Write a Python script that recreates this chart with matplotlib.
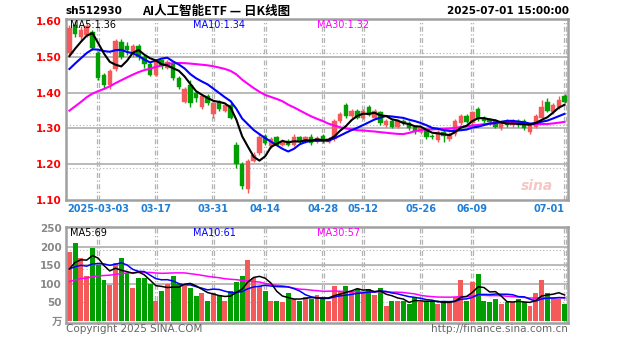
import numpy as np
import pandas as pd
import matplotlib
matplotlib.use("Agg")
import matplotlib.pyplot as plt

plt.rcParams['font.family'] = ['DejaVu Sans', 'Noto Sans CJK SC']

# ---------------- data ----------------
code = "sh512930"
title = "AI人工智能ETF — 日K线图"
stamp = "2025-07-01 15:00:00"

tick_idx = [5, 15, 25, 34, 44, 51, 61, 70, 86]
tick_labels = ['2025-03-03', '03-17', '03-31', '04-14', '04-28', '05-12', '05-26', '06-09', '07-01']

# closes before the first visible day (only used for the moving averages)
pre_close = [1.20, 1.21, 1.19, 1.22, 1.24, 1.23, 1.25, 1.27, 1.26, 1.28,
             1.30, 1.29, 1.31, 1.33, 1.34, 1.36, 1.35, 1.38, 1.40, 1.42,
             1.41, 1.43, 1.44, 1.42, 1.45, 1.46, 1.48, 1.50, 1.49]
pre_vol = [70, 65, 80, 75, 90, 85, 70, 95, 100, 80, 85, 90, 110, 95, 100, 105, 90, 100, 95, 100,
           150, 130, 145, 135, 140, 120, 135, 125, 134]

open_ = [1.51, 1.59, 1.555, 1.56, 1.57, 1.51, 1.45, 1.42, 1.465, 1.54,
         1.53, 1.51, 1.53, 1.50, 1.48, 1.45, 1.49, 1.47, 1.48, 1.44,
         1.375, 1.42, 1.40, 1.36, 1.39, 1.34, 1.375, 1.35, 1.365, 1.255,
         1.20, 1.13, 1.21, 1.23, 1.28, 1.25, 1.275, 1.255, 1.265, 1.255,
         1.275, 1.262, 1.275, 1.265, 1.28, 1.262, 1.27, 1.32, 1.365, 1.335,
         1.35, 1.33, 1.36, 1.33, 1.345, 1.31, 1.32, 1.305, 1.32, 1.315,
         1.305, 1.29, 1.295, 1.28, 1.268, 1.29, 1.27, 1.285, 1.315, 1.335,
         1.315, 1.355, 1.33, 1.325, 1.32, 1.30, 1.322, 1.31, 1.32, 1.32,
         1.29, 1.305, 1.33, 1.375, 1.345, 1.36, 1.39]
close = [1.58, 1.565, 1.575, 1.585, 1.525, 1.44, 1.42, 1.46, 1.545, 1.50,
         1.52, 1.53, 1.50, 1.48, 1.45, 1.49, 1.475, 1.485, 1.44, 1.415,
         1.41, 1.37, 1.385, 1.39, 1.37, 1.37, 1.355, 1.365, 1.33, 1.20,
         1.14, 1.21, 1.225, 1.275, 1.26, 1.27, 1.255, 1.265, 1.255, 1.275,
         1.265, 1.275, 1.26, 1.272, 1.265, 1.27, 1.32, 1.34, 1.335, 1.35,
         1.33, 1.35, 1.338, 1.35, 1.315, 1.32, 1.305, 1.32, 1.315, 1.30,
         1.29, 1.30, 1.275, 1.275, 1.29, 1.28, 1.285, 1.32, 1.335, 1.318,
         1.345, 1.325, 1.32, 1.318, 1.305, 1.315, 1.31, 1.32, 1.312, 1.30,
         1.31, 1.335, 1.36, 1.35, 1.365, 1.38, 1.375]
high = [1.59, 1.60, 1.585, 1.595, 1.575, 1.515, 1.455, 1.465, 1.55, 1.55,
        1.54, 1.535, 1.535, 1.505, 1.485, 1.495, 1.495, 1.49, 1.485, 1.445,
        1.415, 1.435, 1.405, 1.395, 1.395, 1.375, 1.38, 1.37, 1.37, 1.262,
        1.205, 1.215, 1.235, 1.285, 1.285, 1.275, 1.28, 1.27, 1.27, 1.285,
        1.28, 1.28, 1.285, 1.278, 1.285, 1.275, 1.325, 1.345, 1.37, 1.355,
        1.355, 1.355, 1.365, 1.355, 1.35, 1.325, 1.325, 1.325, 1.325, 1.32,
        1.31, 1.305, 1.30, 1.285, 1.295, 1.295, 1.29, 1.325, 1.34, 1.34,
        1.35, 1.36, 1.335, 1.33, 1.325, 1.32, 1.325, 1.325, 1.325, 1.325,
        1.315, 1.34, 1.38, 1.385, 1.37, 1.39, 1.395]
low = [1.50, 1.555, 1.545, 1.555, 1.52, 1.435, 1.41, 1.41, 1.46, 1.495,
       1.505, 1.50, 1.49, 1.47, 1.445, 1.445, 1.465, 1.465, 1.435, 1.41,
       1.37, 1.36, 1.375, 1.355, 1.365, 1.33, 1.35, 1.345, 1.325, 1.19,
       1.13, 1.12, 1.205, 1.225, 1.255, 1.245, 1.25, 1.25, 1.25, 1.25,
       1.26, 1.258, 1.255, 1.26, 1.26, 1.258, 1.265, 1.315, 1.33, 1.33,
       1.325, 1.325, 1.335, 1.325, 1.31, 1.305, 1.30, 1.30, 1.31, 1.295,
       1.285, 1.285, 1.27, 1.27, 1.262, 1.262, 1.265, 1.28, 1.31, 1.315,
       1.31, 1.32, 1.315, 1.31, 1.30, 1.295, 1.305, 1.305, 1.305, 1.295,
       1.285, 1.30, 1.325, 1.345, 1.34, 1.355, 1.37]
volume = [186, 209, 169, 120, 196, 150, 110, 97, 156, 170,
          130, 90, 115, 115, 100, 55, 80, 100, 120, 100,
          95, 90, 67, 75, 55, 75, 70, 55, 80, 105,
          120, 165, 115, 95, 80, 55, 55, 50, 75, 60,
          55, 65, 60, 70, 60, 55, 95, 80, 95, 80,
          85, 75, 85, 70, 90, 40, 55, 55, 55, 45,
          65, 50, 50, 55, 45, 50, 50, 65, 110, 55,
          105, 125, 55, 50, 60, 45, 50, 50, 60, 50,
          40, 75, 110, 75, 60, 60, 45]

price_levels = [1.10, 1.20, 1.30, 1.40, 1.50, 1.60]
vol_levels = [0, 50, 100, 150, 200, 250]
vol_level_labels = ['万', '50', '100', '150', '200', '250']
ma_price_text = ['MA5:1.36', 'MA10:1.34', 'MA30:1.32']
ma_vol_text = ['MA5:69', 'MA10:61', 'MA30:57']

# ---------------- derived ----------------
n = len(close)
x = np.arange(n)
o = np.array(open_); c = np.array(close); h = np.array(high); l = np.array(low)
v = np.array(volume, dtype=float)
allc = pd.Series(pre_close + close)
allv = pd.Series(pre_vol + volume, dtype=float)
npre = len(pre_close)
ma_p = {k: allc.rolling(k).mean().to_numpy()[npre:] for k in (5, 10, 30)}
ma_v = {k: allv.rolling(k).mean().to_numpy()[npre:] for k in (5, 10, 30)}

RED = '#f55a5a'
GREEN = '#009e00'
up = c >= o
cols = np.where(up, RED, GREEN)
line_cols = {5: 'black', 10: '#0000ff', 30: '#ff00ff'}
GRID = '#b4b4b4'
FRAME = '#a0a0a0'

W, H = 627, 342
fig = plt.figure(figsize=(W / 100, H / 100), dpi=100)
ax1 = fig.add_axes([66 / W, 1 - 200 / H, 502 / W, 181 / H])
ax2 = fig.add_axes([66 / W, 1 - 323 / H, 502 / W, 96 / H])

xl = (-0.6, 86.6)
for ax in (ax1, ax2):
    ax.set_xlim(*xl)
    for s in ax.spines.values():
        s.set_color(FRAME)
        s.set_linewidth(1.8)
    ax.tick_params(length=0)
    for t in tick_idx:
        for d in (-0.18, 0.18):
            ax.axvline(t + d, color=GRID, lw=0.9, ls=(0, (4, 2, 1, 2)), zorder=0)

# ---- price panel ----
ax1.set_ylim(1.10, 1.6056)
for lv in price_levels[1:-1]:
    ax1.axhline(lv, color=GRID, lw=1.3, zorder=0)
for lv in (1.51, 1.31, 1.19):
    ax1.axhline(lv, color=GRID, lw=0.8, ls=(0, (1, 2)), zorder=0)

ax1.vlines(x, l, h, colors=cols, lw=1.0, zorder=2)
body_h = np.maximum(np.abs(c - o), 0.003)
ax1.bar(x, body_h, bottom=np.minimum(o, c), width=0.78, color=cols, edgecolor=cols, lw=0.3, zorder=3)
for k in (30, 10, 5):
    ax1.plot(x, ma_p[k], color=line_cols[k], lw=1.5, zorder=4)

ax1.set_yticks(price_levels)
ax1.set_yticklabels([f'{p:.2f}' for p in price_levels], color='#ff0000', fontsize=7.5, fontweight='bold')
ax1.tick_params(axis='y', pad=3)
ax1.set_xticks(tick_idx)
ax1.set_xticklabels(tick_labels, color='#1e7fd8', fontsize=7, fontweight='bold')
ax1.tick_params(axis='x', pad=3)
lbls = ax1.get_xticklabels()
lbls[-1].set_ha('right')

ma_x = [70, 193, 317]
for txt, xx, k in zip(ma_price_text, ma_x, (5, 10, 30)):
    fig.text(xx / W, 1 - 25 / H, txt, color=line_cols[k], fontsize=7, va='center', ha='left')

fig.text(537 / W, 1 - 186 / H, 'sina', color='#f4b8b8', fontsize=10, style='italic',
         fontweight='bold', ha='center', va='center', alpha=0.8)

# ---- volume panel ----
ax2.set_ylim(-5.4, 252.7)
for lv in (100, 150, 200):
    ax2.axhline(lv, color=GRID, lw=1.3, zorder=0)
for lv in (190, 140, 50):
    ax2.axhline(lv, color=GRID, lw=0.8, ls=(0, (1, 2)), zorder=0)
ax2.bar(x, v, width=0.86, color=cols, zorder=2)
for k in (30, 10, 5):
    ax2.plot(x, ma_v[k], color=line_cols[k], lw=1.1, zorder=4)
ax2.set_yticks(vol_levels)
ax2.set_yticklabels(vol_level_labels, color='#888888', fontsize=7.5, fontweight='bold')
ax2.tick_params(axis='y', pad=3)
ax2.set_xticks([])
for txt, xx, k in zip(ma_vol_text, ma_x, (5, 10, 30)):
    fig.text(xx / W, 1 - 233 / H, txt, color=line_cols[k], fontsize=7, va='center', ha='left')

# ---- header / footer ----
fig.text(66 / W, 1 - 11 / H, code, fontsize=7.5, fontweight='bold', va='center', ha='left')
fig.text(142 / W, 1 - 11 / H, title, fontsize=9, fontweight='bold', va='center', ha='left',
         family=['Noto Sans CJK SC', 'DejaVu Sans'])
fig.text(569 / W, 1 - 11 / H, stamp, fontsize=7.5, fontweight='bold', va='center', ha='right')
fig.text(66 / W, 1 - 329 / H, 'Copyright 2025 SINA.COM', fontsize=7.5, color='#666666', va='center', ha='left')
fig.text(568 / W, 1 - 329 / H, 'http://finance.sina.com.cn', fontsize=7.5, color='#666666', va='center', ha='right')

fig.savefig('out.png', dpi=100)
